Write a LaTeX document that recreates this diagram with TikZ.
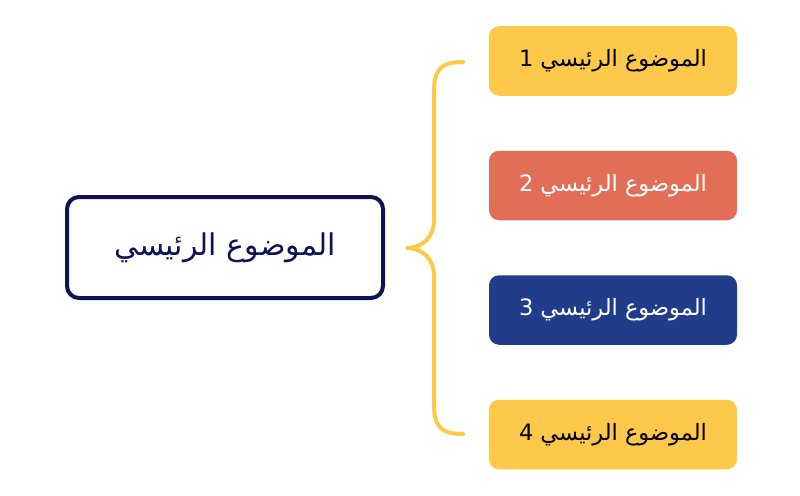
\documentclass[tikz,border=0pt]{standalone}
\usepackage{fontspec}
\TeXXeTstate=1
\newfontfamily\arabicfont[Script=Arabic]{DejaVu Sans}
\definecolor{navyline}{HTML}{0E1257}
\definecolor{ylw}{HTML}{FEC84A}
\definecolor{coral}{HTML}{E36E58}
\definecolor{blu}{HTML}{213D8A}
\tikzset{
  mainbox/.style={draw=navyline, line width=4pt, rounded corners=12pt, fill=white,
    minimum width=316pt, minimum height=101pt, text=navyline,
    font=\arabicfont\fontsize{30}{34}\selectfont},
  topicbox/.style={rounded corners=10pt, minimum width=248pt, minimum height=69.5pt,
    font=\arabicfont\fontsize{22.5}{26}\selectfont},
  bracestyle/.style={draw=ylw, line width=4pt, line cap=round}
}
\begin{document}
\begin{tikzpicture}[x=1pt,y=-1pt]
\useasboundingbox (0,0) rectangle (800,495);
\node[mainbox] (main) at (225,247.5) {\beginR الموضوع الرئيسي\endR};
\node[topicbox, fill=ylw, text=black] (t1) at (613,61) {\beginR الموضوع الرئيسي 1\endR};
\node[topicbox, fill=coral, text=white] (t2) at (613,185.5) {\beginR الموضوع الرئيسي 2\endR};
\node[topicbox, fill=blu, text=white] (t3) at (613,310) {\beginR الموضوع الرئيسي 3\endR};
\node[topicbox, fill=ylw, text=black] (t4) at (613,434.5) {\beginR الموضوع الرئيسي 4\endR};
\coordinate (btop) at (463,62);
\coordinate (bbot) at (463,434);
\coordinate (btip) at (406,248);
\draw[bracestyle] (btop) .. controls (440,62) and (434,70) .. (434,92) -- (434,220)
  .. controls (434,238) and (422,248) .. (btip)
  .. controls (422,248) and (434,258) .. (434,276) -- (434,404)
  .. controls (434,426) and (440,434) .. (bbot);
\end{tikzpicture}
\end{document}
